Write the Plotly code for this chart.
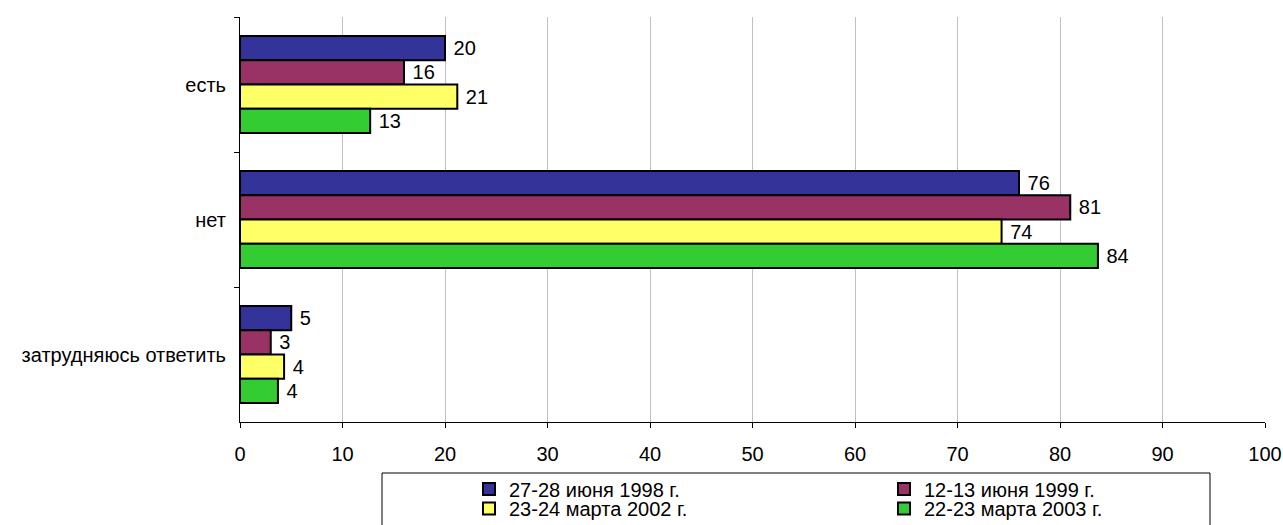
import plotly.graph_objects as go

categories = ["есть", "нет", "затрудняюсь ответить"]
series_names = ["27-28 июня 1998 г.", "12-13 июня 1999 г.", "23-24 марта 2002 г.", "22-23 марта 2003 г."]
values_1998 = [20.0, 76.0, 5.0]
values_1999 = [16.0, 81.0, 3.0]
values_2002 = [21.2, 74.3, 4.3]
values_2003 = [12.7, 83.7, 3.7]
labels_1998 = [20, 76, 5]
labels_1999 = [16, 81, 3]
labels_2002 = [21, 74, 4]
labels_2003 = [13, 84, 4]
x_ticks = [0, 10, 20, 30, 40, 50, 60, 70, 80, 90, 100]

colors = ["#333399", "#993366", "#FFFF66", "#33CC33"]
all_values = [values_1998, values_1999, values_2002, values_2003]
all_labels = [labels_1998, labels_1999, labels_2002, labels_2003]
legend_ids = ["legend", "legend", "legend2", "legend2"]

FONT = "Liberation Sans, Arial, sans-serif"
FS = 20

fig = go.Figure()
for name, vals, labs, col, lg in zip(series_names, all_values, all_labels, colors, legend_ids):
    fig.add_trace(go.Bar(
        y=categories, x=vals, name=name, orientation="h",
        marker=dict(color=col, line=dict(color="black", width=2)),
        text=[str(v) for v in labs], texttemplate=" %{text}",
        textposition="outside", textfont=dict(size=FS, color="black", family=FONT),
        cliponaxis=False, legend=lg,
    ))

W, H = 1283, 525
PL, PR, PT, PB = 240, 1265, 17, 422   # plot area in screen px
L = PL
T = PT
pw = PR - PL
ph = PB - PT
R = W - L - pw
B = H - T - ph

def px_x(p):
    return (p - PL) / pw

def px_y(p):
    return 1 - (p - PT) / ph

legend_common = dict(
    orientation="h", xanchor="left", yanchor="middle",
    entrywidth=370, entrywidthmode="pixels", traceorder="normal",
    bgcolor="rgba(0,0,0,0)", borderwidth=0, font=dict(size=FS, family=FONT),
)

fig.update_layout(
    width=W, height=H,
    margin=dict(l=L, r=R, t=T, b=B, pad=0, autoexpand=False),
    paper_bgcolor="white", plot_bgcolor="white",
    barmode="group", bargap=0.28, bargroupgap=0,
    font=dict(family=FONT, size=FS, color="black"),
    showlegend=True,
    legend=dict(x=px_x(469), y=px_y(489), **legend_common),
    legend2=dict(x=px_x(469), y=px_y(508.5), **legend_common),
)
fig.update_xaxes(
    range=[0, 100], tickvals=x_ticks, ticktext=[str(t) for t in x_ticks],
    showgrid=True, gridcolor="#c0c0c0", gridwidth=1,
    showline=True, linecolor="black", linewidth=1,
    ticks="outside", ticklen=5, tickcolor="black", ticklabelstandoff=9,
    zeroline=False, tickfont=dict(size=FS),
)
fig.update_yaxes(
    categoryorder="array", categoryarray=categories, autorange="reversed",
    showline=True, linecolor="black", linewidth=1,
    ticks="outside", ticklen=5, tickcolor="black", tickson="boundaries",
    showgrid=False, ticklabelstandoff=9, tickfont=dict(size=FS),
)
fig.add_shape(type="rect", xref="paper", yref="paper",
              x0=px_x(382), x1=px_x(1210), y0=px_y(473), y1=px_y(560),
              line=dict(color="black", width=1), fillcolor="rgba(0,0,0,0)", layer="above")

fig.write_html(
    "out.html",
    config={"displayModeBar": False},
    post_script="document.body.style.margin='0';document.body.style.overflow='hidden';",
)
